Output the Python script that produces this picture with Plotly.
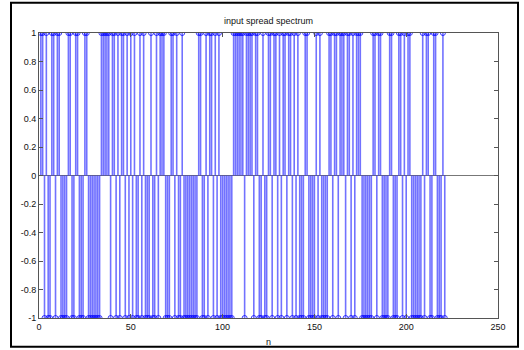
import plotly.graph_objects as go

# ±1 spread-spectrum sequence, n = 1..221
seq_rows = [
    [1, 1, -1, 1, -1, -1, 1, 1, -1, 1],
    [1, -1, -1, -1, -1, 1, 1, -1, -1, 1],
    [1, -1, -1, -1, 1, 1, -1, -1, -1, -1],
    [-1, -1, -1, 1, 1, 1, 1, 1, -1, 1],
    [1, -1, 1, -1, 1, 1, -1, 1, -1, 1],
    [-1, 1, -1, -1, 1, -1, 1, -1, -1, -1],
    [1, -1, -1, 1, -1, 1, 1, 1, -1, -1],
    [-1, 1, 1, -1, 1, -1, -1, 1, -1, -1],
    [-1, -1, -1, -1, -1, -1, 1, 1, -1, -1],
    [1, -1, 1, 1, -1, 1, -1, 1, -1, -1],
    [-1, -1, -1, -1, -1, 1, 1, 1, 1, 1],
    [1, -1, 1, 1, 1, 1, -1, 1, 1, -1],
    [-1, 1, -1, -1, 1, 1, -1, 1, 1, -1],
    [1, -1, 1, 1, -1, 1, 1, -1, 1, -1],
    [1, -1, -1, -1, 1, 1, -1, -1, -1, -1],
    [1, -1, 1, -1, -1, -1, -1, 1, 1, -1],
    [1, 1, -1, 1, 1, 1, -1, 1, 1, -1],
    [1, -1, 1, 1, 1, -1, -1, -1, -1, -1],
    [-1, 1, 1, -1, 1, 1, -1, -1, -1, -1],
    [1, 1, -1, -1, -1, 1, 1, -1, 1, -1],
    [1, 1, -1, -1, -1, -1, -1, -1, 1, -1],
    [1, 1, -1, -1, 1, 1, -1, -1, -1, 1],
    [-1],
]
values = [v for row in seq_rows for v in row]
n = list(range(1, len(values) + 1))

x_ticks = [0, 50, 100, 150, 200, 250]
y_ticks = [-1, -0.8, -0.6, -0.4, -0.2, 0, 0.2, 0.4, 0.6, 0.8, 1]
y_tick_text = ["-1", "-0.8", "-0.6", "-0.4", "-0.2", "0", "0.2", "0.4", "0.6", "0.8", "1"]

stem_x, stem_y = [], []
for xi, yi in zip(n, values):
    stem_x += [xi, xi, None]
    stem_y += [0, yi, None]

font = dict(family="Liberation Sans, Arial", size=9, color="#111")

fig = go.Figure()
fig.add_trace(go.Scatter(x=stem_x, y=stem_y, mode="lines",
                         line=dict(color="rgba(20,20,255,0.6)", width=1.6),
                         hoverinfo="skip", showlegend=False))
fig.add_trace(go.Scatter(x=n, y=values, mode="markers",
                         marker=dict(symbol="circle-open", size=5,
                                     color="rgba(0,0,255,0.75)", line=dict(width=1)),
                         showlegend=False))

axis_common = dict(showline=True, linecolor="#555", linewidth=1, mirror="ticks",
                   ticks="inside", ticklen=4, tickcolor="#555", showgrid=False,
                   tickfont=font, automargin=False)
fig.update_xaxes(range=[0, 250], tickvals=x_ticks, zeroline=False, **axis_common)
fig.update_yaxes(range=[-1, 1], tickvals=y_ticks, ticktext=y_tick_text,
                 zeroline=True, zerolinecolor="#777", zerolinewidth=1,
                 **axis_common)

fig.add_shape(type="rect", xref="paper", yref="paper",
              x0=-0.061, x1=1.0436, y0=-0.1007, y1=1.106,
              line=dict(color="black", width=2), fillcolor="rgba(0,0,0,0)")

fig.add_annotation(text="input spread spectrum", xref="paper", yref="paper",
                   x=0.5, y=1.043, xanchor="center", yanchor="middle",
                   showarrow=False, font=font)
fig.add_annotation(text="n", xref="paper", yref="paper",
                   x=0.5, y=-0.083, xanchor="center", yanchor="middle",
                   showarrow=False, font=font)

fig.update_layout(
    width=524, height=350,
    margin=dict(l=39, r=26, t=33, b=32),
    paper_bgcolor="white", plot_bgcolor="white",
)

fig.write_html("out.html",
               config={"displayModeBar": False},
               post_script="document.body.style.margin='0';document.body.style.overflow='hidden';")
